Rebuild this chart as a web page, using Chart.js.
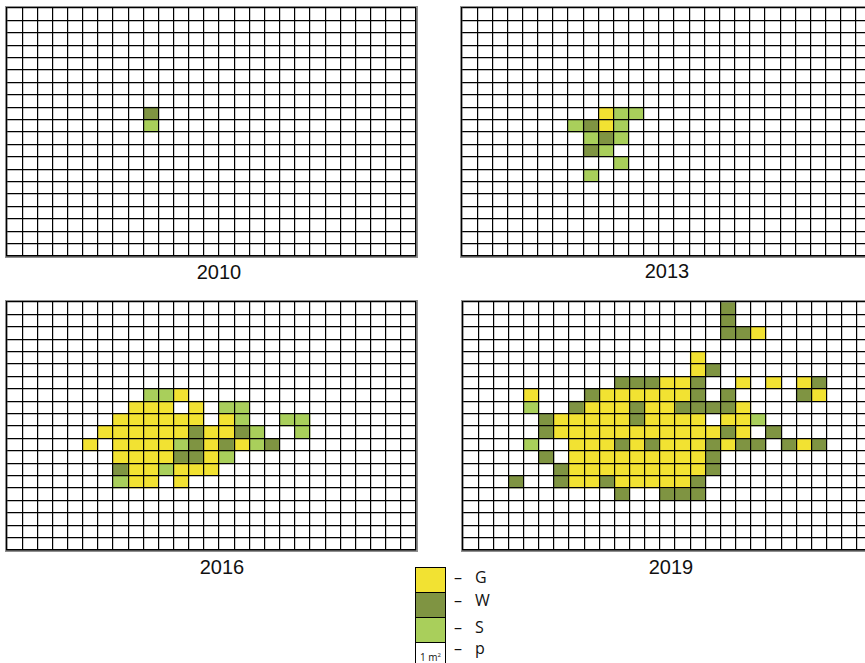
<!DOCTYPE html>
<html>
<head>
<meta charset="utf-8">
<script src="https://cdn.jsdelivr.net/npm/chart.js@4.4.0/dist/chart.umd.min.js"></script>
<style>
html, body { margin: 0; padding: 0; background: #fff; }
body { width: 865px; height: 663px; overflow: hidden; position: relative; font-family: "Liberation Sans", Arial, sans-serif; }
.frame { position: absolute; border: 2px solid #8f8f8f; background: #fff; }
.plot { position: absolute; }
.year { position: absolute; font-size: 20px; line-height: 20px; transform: translateX(-50%); color: #111; white-space: nowrap; }
.lg-box { position: absolute; left: 415px; width: 31px; height: 26px; box-sizing: border-box; border: 1px solid #000; }
.lg-text { position: absolute; font-family: "Open Sans", sans-serif; font-size: 16px; line-height: 20px; color: #111; white-space: nowrap; }
.unit { position: absolute; left: 420px; top: 650px; font-family: "Open Sans", sans-serif; font-size: 10px; line-height: 10px; color: #111; }
.unit sup { font-size: 6px; vertical-align: 4px; }
</style>
</head>
<body>
<script>
// quadrat grid: 27 columns x 20 rows, one character per 1 m2 cell
const years = ['2010', '2013', '2016', '2019'];
const cellKeys = ['G', 'W', 'S'];
const legendKeys = ['G', 'W', 'S', 'p'];

const grid2010 = [
    '...........................',
    '...........................',
    '...........................',
    '...........................',
    '...........................',
    '...........................',
    '...........................',
    '...........................',
    '.........W.................',
    '.........S.................',
    '...........................',
    '...........................',
    '...........................',
    '...........................',
    '...........................',
    '...........................',
    '...........................',
    '...........................',
    '...........................',
    '...........................'
];

const grid2013 = [
    '...........................',
    '...........................',
    '...........................',
    '...........................',
    '...........................',
    '...........................',
    '...........................',
    '...........................',
    '.........GSS...............',
    '.......SWGS................',
    '........SWS................',
    '........WS.................',
    '..........S................',
    '........S..................',
    '...........................',
    '...........................',
    '...........................',
    '...........................',
    '...........................',
    '...........................'
];

const grid2016 = [
    '...........................',
    '...........................',
    '...........................',
    '...........................',
    '...........................',
    '...........................',
    '...........................',
    '.........SSG...............',
    '........GGG.G.SS...........',
    '.......GGGGGG.GS..SS.......',
    '......GGGGGGWGGWS..S.......',
    '.....G.GGGGSWGWGSW.........',
    '.......GGGGWWGS............',
    '.......WGGSGGG.............',
    '.......SGG.G...............',
    '...........................',
    '...........................',
    '...........................',
    '...........................',
    '...........................'
];

const grid2019 = [
    '.................W.........',
    '.................W.........',
    '.................WWG.......',
    '...........................',
    '...............G...........',
    '...............GW..........',
    '..........WWWGGW..G.G.GW...',
    '....G...WGGGGGGW.W....WG...',
    '....S..WGGGWGGWWWWG........',
    '.....WGGGGGWGGGG.GGS.......',
    '.....WGGGGGGGGGGGWG.W......',
    '....S..GGGWGWGGGWGWW.WGW...',
    '.....W.GGGGGGGGGW..........',
    '......WGGGGGGGGGW..........',
    '...W..WGGWGGGGGW...........',
    '..........W..WWW...........',
    '...........................',
    '...........................',
    '...........................',
    '...........................'
];

const grids = [grid2010, grid2013, grid2016, grid2019];

// layout (pixels)
const colours = { G: '#f2e232', W: '#7f9442', S: '#a9cf5b', p: '#ffffff' };
const panelPos = [[7, 8], [462, 8], [7, 302], [463, 302]];
const panelW = 409, panelH = 248, pad = 3;
const yearPos = [[219, 262], [667, 261], [222, 557], [671, 557]];
const legendTop = [567, 592, 617, 642];
const legendTextTop = [567, 590, 617, 638];

function cellsOf(rows, key) {
    const out = [];
    rows.forEach((row, r) => {
        for (let c = 0; c < row.length; c++) {
            if (row[c] === key) out.push({ x: c + 0.5, y: [r, r + 1] });
        }
    });
    return out;
}

function axis(max, reverse) {
    return {
        type: 'linear',
        min: 0,
        max: max,
        reverse: reverse,
        offset: false,
        grid: { color: '#000', lineWidth: 1.2, drawTicks: false, offset: false, z: 1 },   // grid over the cells
        border: { color: '#000', width: 1.2, z: 1 },
        ticks: { display: false, stepSize: 1, autoSkip: false, maxTicksLimit: 100 }
    };
}

function addText(cls, text, left, top) {
    const d = document.createElement('div');
    d.className = cls;
    d.textContent = text;
    d.style.left = left + 'px';
    d.style.top = top + 'px';
    document.body.appendChild(d);
}

function makePanel(i) {
    const rows = grids[i];
    const [px, py] = panelPos[i];

    const frame = document.createElement('div');
    frame.className = 'frame';
    frame.style.left = (px - 2) + 'px';
    frame.style.top = (py - 2) + 'px';
    frame.style.width = panelW + 'px';
    frame.style.height = panelH + 'px';
    document.body.appendChild(frame);

    const box = document.createElement('div');
    box.className = 'plot';
    box.style.left = (px - pad) + 'px';
    box.style.top = (py - pad) + 'px';
    box.style.width = (panelW + 2 * pad) + 'px';
    box.style.height = (panelH + 2 * pad) + 'px';
    const canvas = document.createElement('canvas');
    box.appendChild(canvas);
    document.body.appendChild(box);

    new Chart(canvas, {
        type: 'bar',
        data: {
            datasets: cellKeys.map(k => ({
                label: k,
                data: cellsOf(rows, k),
                backgroundColor: colours[k],
                borderWidth: 0,
                grouped: false,
                barPercentage: 1,
                categoryPercentage: 1
            }))
        },
        options: {
            responsive: true,
            maintainAspectRatio: false,
            animation: false,
            layout: { padding: pad },
            scales: {
                x: axis(rows[0].length, false),
                y: axis(rows.length, true)
            },
            plugins: {
                legend: { display: false },
                tooltip: { enabled: false }
            }
        }
    });

    addText('year', years[i], yearPos[i][0], yearPos[i][1]);
}

years.forEach((y, i) => makePanel(i));

// legend
legendKeys.forEach((k, i) => {
    const b = document.createElement('div');
    b.className = 'lg-box';
    b.style.top = legendTop[i] + 'px';
    b.style.background = colours[k];
    document.body.appendChild(b);

    addText('lg-text', '\u2013', 454, legendTextTop[i]);
    addText('lg-text', k, 475, legendTextTop[i]);
});

const unit = document.createElement('div');
unit.className = 'unit';
unit.innerHTML = '1 m<sup>2</sup>';
document.body.appendChild(unit);
</script>
</body>
</html>
